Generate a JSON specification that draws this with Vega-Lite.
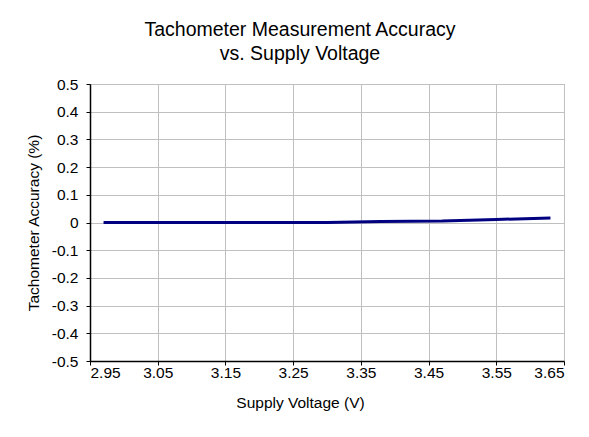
{
  "$schema": "https://vega.github.io/schema/vega-lite/v6.json",
  "width": 474,
  "height": 277,
  "autosize": {"type": "none"},
  "padding": {"left": 90, "top": 84, "right": 25, "bottom": 76},
  "background": "white",
  "title": {
    "text": ["Tachometer Measurement Accuracy", "vs. Supply Voltage"],
    "font": "Liberation Sans",
    "fontSize": 19.5,
    "fontWeight": "normal",
    "lineHeight": 24,
    "color": "black",
    "anchor": "middle",
    "dx": -27,
    "offset": 13
  },
  "data": {
    "values": [
      {"voltage": 2.97, "accuracy": 0},
      {"voltage": 3.05, "accuracy": 0},
      {"voltage": 3.13, "accuracy": 0},
      {"voltage": 3.21, "accuracy": 0},
      {"voltage": 3.30, "accuracy": 0},
      {"voltage": 3.38, "accuracy": 0.004},
      {"voltage": 3.47, "accuracy": 0.005},
      {"voltage": 3.55, "accuracy": 0.011},
      {"voltage": 3.63, "accuracy": 0.016}
    ]
  },
  "mark": {"type": "line", "color": "#000080", "strokeWidth": 3, "clip": true},
  "encoding": {
    "x": {
      "field": "voltage",
      "type": "quantitative",
      "title": "Supply Voltage (V)",
      "scale": {"domain": [2.95, 3.65], "nice": false, "zero": false},
      "axis": {
        "values": [2.95, 3.05, 3.15, 3.25, 3.35, 3.45, 3.55, 3.65],
        "format": ".2f",
        "labelPadding": 0,
        "titlePadding": 15,
        "titleX": 210
      }
    },
    "y": {
      "field": "accuracy",
      "type": "quantitative",
      "title": "Tachometer Accuracy (%)",
      "scale": {"domain": [-0.5, 0.5], "nice": false},
      "axis": {
        "values": [-0.5, -0.4, -0.3, -0.2, -0.1, 0, 0.1, 0.2, 0.3, 0.4, 0.5],
        "labelExpr": "round(datum.value * 10) / 10 + ''",
        "labelPadding": 8,
        "titlePadding": 10
      }
    }
  },
  "config": {
    "view": {"stroke": "#808080", "strokeWidth": 1},
    "axis": {
      "labelFont": "Liberation Sans",
      "labelFontSize": 15.5,
      "labelColor": "black",
      "titleFont": "Liberation Sans",
      "titleFontSize": 15.5,
      "titleFontWeight": "normal",
      "titleColor": "black",
      "domainColor": "black",
      "domainWidth": 1.5,
      "tickColor": "black",
      "tickSize": 4,
      "tickWidth": 1,
      "gridColor": "#c0c0c0",
      "gridWidth": 1,
      "gridOpacity": 1
    }
  }
}
